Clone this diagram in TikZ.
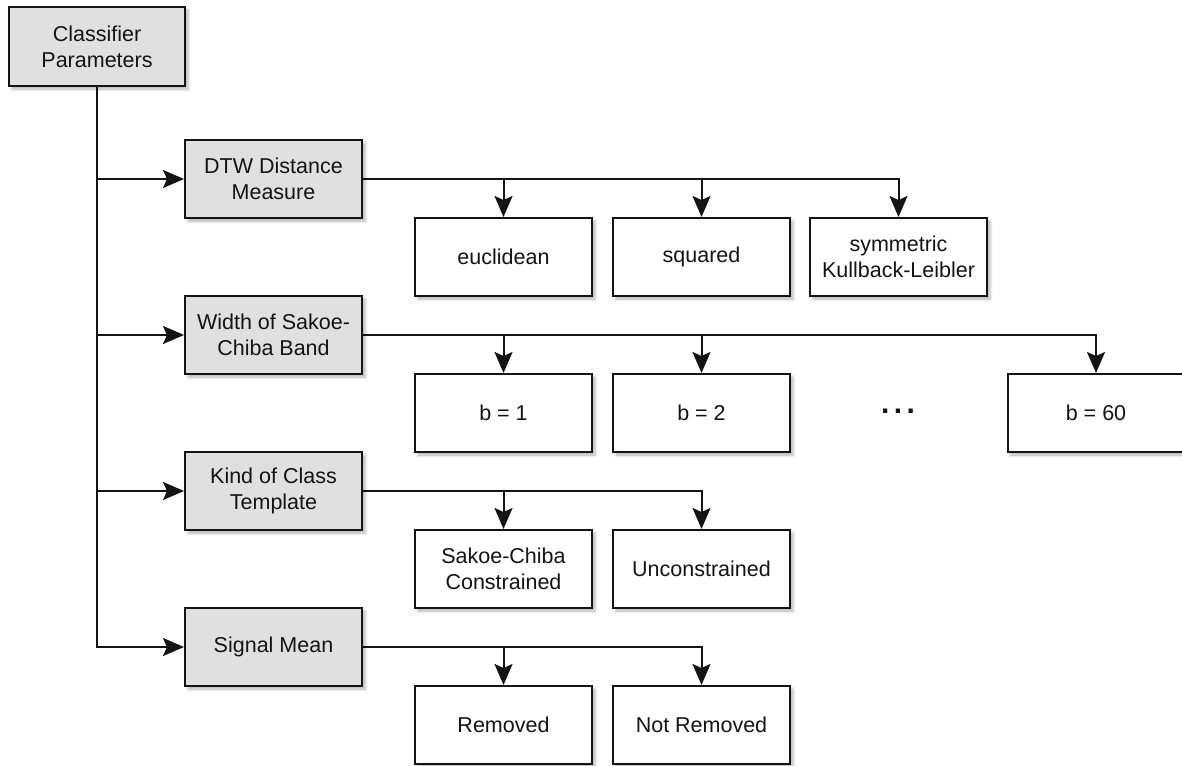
\documentclass[tikz,border=0pt]{standalone}
\usepackage{fontspec}
\setmainfont{Liberation Sans}
\usetikzlibrary{arrows.meta,shadows.blur}
\definecolor{paramfill}{HTML}{E0E0E0}
\definecolor{ink}{HTML}{141414}
\begin{document}
\begin{tikzpicture}[x=1pt,y=-1pt,
  box/.style={draw=ink, line width=2pt, minimum width=177pt, minimum height=78pt,
    inner sep=0pt, align=center, text=ink, font=\fontsize{21.5}{26}\selectfont,
    blur shadow={shadow xshift=3pt, shadow yshift=-3pt, shadow blur radius=3pt, shadow opacity=30}},
  param/.style={box, fill=paramfill},
  choice/.style={box, fill=white},
  link/.style={draw=ink, line width=2pt, -{Stealth[length=21pt,width=18pt,inset=4pt]}},
]
\useasboundingbox (0,0) rectangle (1182,765);

% root and parameter boxes
\node[param, minimum width=176pt, minimum height=79pt] (root) at (97,46.5) {Classifier\\Parameters};
\node[param] (dtw)  at (273.5,179) {DTW Distance\\Measure};
\node[param] (band) at (273.5,335) {Width of Sakoe-\\Chiba Band};
\node[param] (tmpl) at (273.5,491) {Kind of Class\\Template};
\node[param] (mean) at (273.5,647) {Signal Mean};

% distance measures
\node[choice] (euc) at (503.5,257) {euclidean};
\node[choice] (sqr) at (701.5,257) {squared};
\node[choice] (skl) at (898.5,257) {symmetric\\Kullback-Leibler};

% band widths
\node[choice] (b1)  at (503.5,413) {b = 1};
\node[choice] (b2)  at (701.5,413) {b = 2};
\node[anchor=base, inner sep=0pt, text=ink, font=\fontsize{30}{30}\bfseries\selectfont] (dots) at (898,413)
  {.\hspace{4.5pt}.\hspace{4.5pt}.};
\node[choice] (b60) at (1096,413) {b = 60};

% class templates
\node[choice] (scc) at (503.5,569) {Sakoe-Chiba\\Constrained};
\node[choice] (unc) at (701.5,569) {Unconstrained};

% signal mean
\node[choice] (rem)  at (503.5,725) {Removed};
\node[choice] (nrem) at (701.5,725) {Not Removed};

% connectors from the root
\foreach \p in {dtw,band,tmpl,mean}
  \draw[link] (root.south) |- (\p.west);

% connectors from each parameter to its values
\foreach \c in {euc,sqr,skl}
  \draw[link] (dtw.east) -| (\c.north);
\foreach \c in {b1,b2,b60}
  \draw[link] (band.east) -| (\c.north);
\foreach \c in {scc,unc}
  \draw[link] (tmpl.east) -| (\c.north);
\foreach \c in {rem,nrem}
  \draw[link] (mean.east) -| (\c.north);
\end{tikzpicture}
\end{document}
